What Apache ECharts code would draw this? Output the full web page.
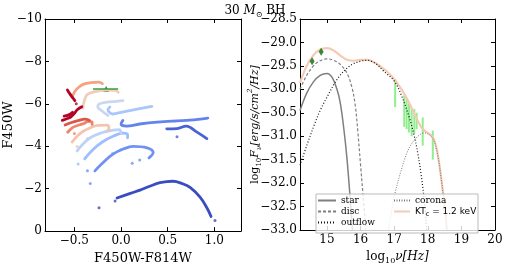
<!DOCTYPE html>
<html><head><meta charset="utf-8">
<script src="https://cdn.jsdelivr.net/npm/echarts@6/dist/echarts.min.js"></script>
<style>html,body{margin:0;padding:0;background:#fff}#c{width:510px;height:270px}</style>
</head><body><div id="c"></div>
<script>
// ---------- Left panel: colour-magnitude tracks ----------
const colorTicks = [-0.5, 0.0, 0.5, 1.0];
const magTicks = [-10, -8, -6, -4, -2, 0];
const trackA1 = [[-0.575,-6.65],[-0.55,-6.48],[-0.52,-6.3],[-0.495,-6.15]];
const trackA2 = [[-0.63,-5.22],[-0.58,-5.3],[-0.54,-5.38],[-0.5,-5.55],[-0.47,-5.72],[-0.42,-5.86]];
const trackA3 = [[-0.61,-5.42],[-0.56,-5.48],[-0.52,-5.6]];
const trackB = [[-0.6,-5.0],[-0.53,-5.12],[-0.45,-5.22],[-0.39,-5.28],[-0.34,-5.22]];
const trackC = [[-0.57,-4.66],[-0.52,-4.88],[-0.45,-5.0],[-0.4,-5.07],[-0.35,-5.17],[-0.31,-5.14],[-0.31,-5.03]];
const trackD = [[-0.525,-6.3],[-0.5,-6.55],[-0.46,-6.76],[-0.4,-6.93],[-0.32,-7.0],[-0.24,-7.02],[-0.2,-6.95]];
const trackE = [[-0.525,-4.2],[-0.46,-4.52],[-0.4,-4.72],[-0.34,-4.85],[-0.25,-4.98],[-0.15,-5.0],[-0.13,-4.85],[-0.14,-4.75]];
const trackF = [[-0.41,-5.8],[-0.39,-6.2],[-0.36,-6.45],[-0.28,-6.58],[-0.15,-6.65],[-0.06,-6.63],[-0.03,-6.55]];
const trackG = [[0.02,-6.15],[-0.05,-6.12],[-0.15,-6.08],[-0.23,-6.0],[-0.25,-5.88],[-0.2,-5.65],[-0.14,-5.45]];
const trackH = [[0.33,-5.88],[0.2,-5.78],[0.05,-5.65],[-0.05,-5.55],[-0.09,-5.52],[-0.14,-5.72],[-0.12,-5.85]];
const trackI = [[-0.47,-3.78],[-0.42,-4.05],[-0.33,-4.4],[-0.2,-4.65],[-0.1,-4.75],[-0.02,-4.78],[0.0,-4.62]];
const trackJ = [[-0.39,-3.4],[-0.3,-3.85],[-0.2,-4.2],[-0.08,-4.48],[0.02,-4.62],[0.07,-4.55],[0.07,-4.4]];
const trackK = [[-0.28,-2.84],[-0.2,-3.2],[-0.09,-3.62],[0.03,-3.88],[0.13,-3.99],[0.28,-3.92],[0.345,-3.7],[0.3,-3.45]];
const trackL = [[0.02,-5.22],[0.0,-5.05],[0.06,-4.95],[0.2,-5.05],[0.39,-5.14],[0.6,-5.2],[0.74,-5.23],[0.93,-5.33]];
const trackM = [[0.49,-4.82],[0.6,-4.83],[0.7,-4.95],[0.81,-4.68],[0.92,-4.36]];
const trackN = [[-0.043,-1.56],[0.1,-1.78],[0.204,-1.93],[0.3,-2.1],[0.418,-2.28],[0.557,-2.35],[0.65,-2.25],[0.74,-2.06],[0.847,-1.6],[0.92,-1.1],[0.965,-0.69]];
const dotsA = [[-0.48,-6.0]];
const dotsC = [[-0.57,-4.68],[-0.5,-4.6]];
const dotsI = [[-0.47,-3.99],[-0.36,-4.36]];
const dotsJ = [[-0.46,-3.16],[-0.09,-3.67],[0.0,-3.85]];
const dotsK = [[0.12,-3.2],[0.2,-3.35],[-0.33,-2.25],[-0.36,-2.84]];
const dotsM = [[0.6,-4.45]];
const dotsN = [[-0.064,-1.42],[-0.236,-1.1],[1.007,-0.5]];
const greenBarX = [-0.30, -0.03];
const greenBarY = -6.7;
const greenMarker = [-0.16, -6.7];

// ---------- Right panel: SED ----------
const nuTicks = [15, 16, 17, 18, 19, 20];
const starNu = [14.2,14.4,14.6,14.8,15.0,15.15,15.3,15.4,15.5,15.6,15.7,15.76];
const starF  = [-30.45,-30.08,-29.84,-29.7,-29.66,-29.74,-30.0,-30.3,-30.82,-31.5,-32.4,-33.0];
const discNu = [14.2,14.4,14.6,14.8,15.0,15.2,15.4,15.6,15.75,15.85,15.92,16.0,16.08,16.16];
const discF  = [-30.0,-29.7,-29.5,-29.39,-29.35,-29.38,-29.47,-29.66,-29.97,-30.38,-30.9,-31.6,-32.3,-33.0];
const outflowNu = [14.2,14.4,14.64,14.8,15.0,15.33,15.7,16.0,16.2,16.45,16.7,17.0,17.2,17.45,17.6,17.7,17.8,17.9,17.97];
const outflowF  = [-31.62,-31.2,-30.73,-30.45,-30.17,-29.76,-29.49,-29.4,-29.38,-29.45,-29.62,-29.82,-30.1,-30.6,-31.0,-31.35,-31.8,-32.4,-33.0];
const coronaNu = [16.83,17.0,17.2,17.4,17.6,17.8,17.9,18.0,18.1,18.2,18.3,18.4,18.5,18.57];
const coronaF  = [-33.0,-32.3,-31.75,-31.32,-31.08,-30.95,-30.93,-30.95,-31.0,-31.12,-31.42,-31.9,-32.5,-33.0];
const totalNu = [14.2,14.4,14.6,14.8,15.0,15.2,15.4,15.6,15.8,16.0,16.2,16.4,16.6,16.8,17.0,17.2,17.4,17.6,17.8,17.9,18.0,18.1,18.2,18.3,18.4,18.5,18.57];
const totalF  = [-29.86,-29.5,-29.27,-29.15,-29.12,-29.17,-29.28,-29.37,-29.39,-29.37,-29.37,-29.42,-29.52,-29.63,-29.78,-29.98,-30.22,-30.52,-30.8,-30.88,-30.93,-30.98,-31.1,-31.4,-31.9,-32.5,-33.0];
const xrayNu = [17.03,17.3,17.37,17.44,17.52,17.6,17.67,17.85,18.15];
const xrayLo = [-30.38,-30.8,-30.85,-30.92,-31.0,-30.95,-30.85,-31.2,-31.5];
const xrayHi = [-29.78,-30.13,-30.2,-30.3,-30.4,-30.42,-30.5,-30.6,-30.88];
const opticalNu = [14.56, 14.83];
const opticalF = [-29.4, -29.2];

// ---------- styling ----------
const serif = 'DejaVu Serif';
const sans = 'DejaVu Sans';
const trackList = [
  [trackN,'#3b4cc0'],[trackM,'#4a62d2'],[trackL,'#6384eb'],[trackK,'#6f92f3'],
  [trackJ,'#9ebeff'],[trackI,'#bcd2f7'],[trackH,'#a9c6fd'],[trackG,'#cad8ef'],
  [trackF,'#f0cdbb'],[trackE,'#f4c4ad'],[trackD,'#f5a283'],[trackC,'#ee8669'],
  [trackB,'#d95847'],[trackA3,'#b40426'],[trackA2,'#b40426'],[trackA1,'#b40426']
];
const dotList = [
  [dotsN,'#3b4cc0'],[dotsM,'#4a62d2'],[dotsK,'#6f92f3'],[dotsJ,'#9ebeff'],
  [dotsI,'#f4c4ad'],[dotsC,'#ee8669'],[dotsA,'#b40426']
];
const zip = (a,b) => a.map((v,i)=>[v,b[i]]);
const fmt = d => v => (v < 0 ? '\u2212' : '') + Math.abs(v).toFixed(d);

function xAx(grid, min, max, ticks, d, top, name, nameRich) {
  return {
    type:'value', gridIndex:grid, min, max, position: top ? 'top' : 'bottom',
    axisLine:{show:true, onZero:false, lineStyle:{color:'#000', width:1}},
    axisTick:{show:true, inside:true, length:4, customValues:ticks, lineStyle:{color:'#000'}},
    axisLabel:{show:!top, customValues:ticks, formatter:fmt(d), fontFamily:serif, fontSize:12, color:'#000', margin:4},
    splitLine:{show:false},
    name: top ? '' : name, nameLocation:'middle', nameGap:19,
    nameTextStyle:{fontFamily:serif, fontSize:13, color:'#000', rich:nameRich}
  };
}
function yAx(grid, min, max, interval, d, right, inverse, name, nameGap, nameRich, fs) {
  return {
    type:'value', gridIndex:grid, min, max, interval, inverse, position: right ? 'right' : 'left',
    axisLine:{show:true, onZero:false, lineStyle:{color:'#000', width:1}},
    axisTick:{show:true, inside:true, length:4, lineStyle:{color:'#000'}},
    axisLabel:{show:!right, formatter:fmt(d), fontFamily:serif, fontSize:12, color:'#000', margin:3},
    splitLine:{show:false},
    name: right ? '' : name, nameLocation:'middle', nameGap, nameRotate:90, nameMoveOverlap:false,
    nameTextStyle:{fontFamily:serif, fontSize:fs || 13, color:'#000', rich:nameRich}
  };
}

const subRich = {
  n:{fontFamily:serif, fontSize:12, lineHeight:16, color:'#000'},
  i:{fontFamily:serif, fontSize:12, fontStyle:'italic', lineHeight:16, color:'#000'},
  s:{fontFamily:serif, fontSize:8, verticalAlign:'bottom', lineHeight:14, color:'#000'},
  si:{fontFamily:serif, fontSize:8, fontStyle:'italic', verticalAlign:'bottom', lineHeight:14, color:'#000'},
  p:{fontFamily:serif, fontSize:8, fontStyle:'italic', verticalAlign:'top', lineHeight:18, color:'#000'}
};
const yRich = {
  n:{fontFamily:serif, fontSize:11, lineHeight:14, color:'#000'},
  i:{fontFamily:serif, fontSize:11, fontStyle:'italic', lineHeight:14, color:'#000'},
  s:{fontFamily:serif, fontSize:7, verticalAlign:'bottom', lineHeight:12, color:'#000'},
  si:{fontFamily:serif, fontSize:7, fontStyle:'italic', verticalAlign:'bottom', lineHeight:12, color:'#000'},
  p:{fontFamily:serif, fontSize:7, fontStyle:'italic', verticalAlign:'top', lineHeight:16, color:'#000'}
};

const series = [];
trackList.forEach(([d,c]) => series.push({
  type:'line', xAxisIndex:0, yAxisIndex:0, data:d, smooth:0.4, symbol:'none', silent:true, color:c,
  lineStyle:{color:c, width:2.8, cap:'round', join:'round'}
}));
dotList.forEach(([d,c]) => series.push({
  type:'scatter', xAxisIndex:0, yAxisIndex:0, data:d, symbolSize:3, silent:true, itemStyle:{color:c}
}));
series.push({type:'line', xAxisIndex:0, yAxisIndex:0, data:greenBarX.map(x=>[x,greenBarY]), symbol:'none', silent:true,
  lineStyle:{color:'#3a9e3a', width:1.5}});
series.push({type:'scatter', xAxisIndex:0, yAxisIndex:0, data:[greenMarker], symbol:'triangle', symbolSize:6, silent:true,
  itemStyle:{color:'#064f06'}});

// right panel
function sedLine(name, nu, f, color, width, type) {
  return {name, type:'line', xAxisIndex:2, yAxisIndex:2, data:zip(nu,f), smooth:0.35, symbol:'none', silent:true,
    color, itemStyle:{color}, lineStyle:{color, width, type: type || 'solid'}};
}
series.push(sedLine('KT', totalNu, totalF, '#f4cab5', 2.2));
series.push(sedLine('star', starNu, starF, '#7f7f7f', 1.5));
series.push(sedLine('disc', discNu, discF, '#7f7f7f', 1.2, [3,2]));
series.push(sedLine('outflow', outflowNu, outflowF, '#111111', 1.2, [1,2]));
series.push(sedLine('corona', coronaNu, coronaF, '#777777', 1, [1,1.5]));
series.push({type:'custom', xAxisIndex:2, yAxisIndex:2, silent:true, z:3,
  data:xrayNu.map((x,i)=>[x, xrayLo[i], xrayHi[i]]),
  encode:{x:0, y:[1,2]},
  renderItem:(params, api) => {
    const a = api.coord([api.value(0), api.value(1)]);
    const b = api.coord([api.value(0), api.value(2)]);
    return {type:'line', shape:{x1:a[0], y1:a[1], x2:b[0], y2:b[1]}, style:{stroke:'#90ee90', lineWidth:2}};
  }});
series.push({type:'scatter', xAxisIndex:2, yAxisIndex:2, data:zip(opticalNu,opticalF), symbol:'diamond', symbolSize:[5,8], silent:true, z:4,
  itemStyle:{color:'#0a6a0a'}});

const legendText = {fontFamily:serif, fontSize:9, color:'#000',
  rich:{k:{fontFamily:sans, fontSize:9, color:'#000', lineHeight:12}, c:{fontFamily:sans, fontSize:6.5, verticalAlign:'bottom', lineHeight:11, color:'#000'}}};

const option = {
  animation:false,
  title:{text:'30 {i|M}{s|\u2299} {n|BH}', left:'center', top:-2,
    textStyle:{fontFamily:serif, fontSize:12, fontWeight:'normal', color:'#000', lineHeight:16, rich:subRich}},
  grid:[{left:45, top:19, width:196, height:218}, {left:300, top:19, width:195, height:218}],
  xAxis:[
    xAx(0, -0.815, 1.286, colorTicks, 1, false, 'F450W-F814W', subRich),
    xAx(0, -0.815, 1.286, colorTicks, 1, true, '', subRich),
    xAx(1, 14.2, 20, nuTicks, 0, false, '{n|log}{s|10}{i|\u03bd}{i|[Hz]}', subRich),
    xAx(1, 14.2, 20, nuTicks, 0, true, '', subRich)
  ],
  yAxis:[
    yAx(0, -10, 0, 2, 0, false, true, 'F450W', 30, subRich),
    yAx(0, -10, 0, 2, 0, true, true, '', 0, subRich),
    yAx(1, -33, -28.5, 0.5, 1, false, false, '{n|log}{s|10}{i|F}{si|\u03bd}{i|[erg/s/cm}{p|2}{i|/Hz]}', 37, yRich, 11),
    yAx(1, -33, -28.5, 0.5, 1, true, false, '', 0, subRich)
  ],
  legend:[
    {data:['star','disc','outflow'], orient:'vertical', left:317, top:196, itemWidth:18, itemHeight:10, itemGap:2, padding:0,
      itemStyle:{opacity:0}, textStyle:legendText, z:5},
    {data:['corona','KT'], orient:'vertical', left:393, top:196, itemWidth:16, itemHeight:10, itemGap:2, padding:0,
      itemStyle:{opacity:0}, textStyle:legendText, z:5,
      formatter: n => n === 'KT' ? '{k|KT}{c|c}{k| = 1.2 keV}' : n}
  ],
  graphic:[{type:'rect', z:4, shape:{x:316, y:194, width:162, height:39},
    style:{fill:'rgba(255,255,255,0.8)', stroke:'#bbbbbb', lineWidth:1}}],
  series
};
const chart = echarts.init(document.getElementById('c'), null, {renderer:'canvas'});
chart.setOption(option);
</script></body></html>
